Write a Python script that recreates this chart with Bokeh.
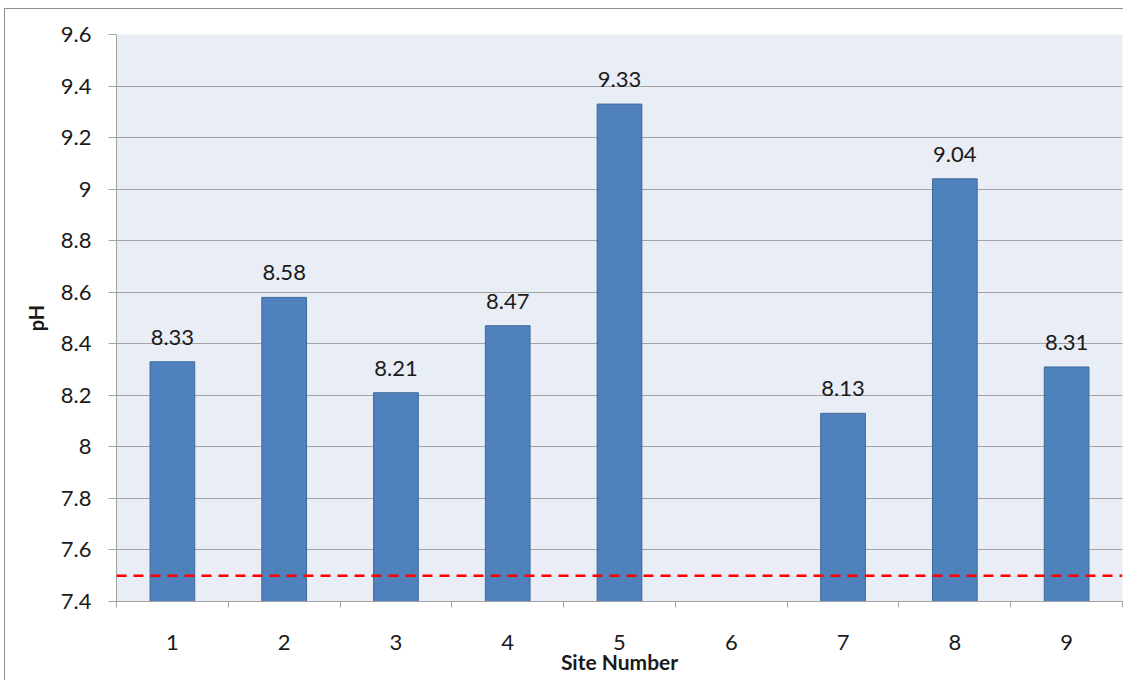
from bokeh.plotting import figure
from bokeh.models import (ColumnDataSource, FixedTicker, CustomJSTickFormatter,
                          LabelSet, Span)
from bokeh.core.properties import value
from bokeh.embed import file_html
from bokeh.resources import INLINE

# pH measured at each site (site 6 has no reading)
sites = [1, 2, 3, 4, 5, 6, 7, 8, 9]
ph = [8.33, 8.58, 8.21, 8.47, 9.33, None, 8.13, 9.04, 8.31]
ph_limit = 7.5
y_ticks = [7.4, 7.6, 7.8, 8.0, 8.2, 8.4, 8.6, 8.8, 9.0, 9.2, 9.4, 9.6]

FONT = "Lato"

xs = [s for s, v in zip(sites, ph) if v is not None]
ys = [v for v in ph if v is not None]
src = ColumnDataSource(dict(
    site=xs,
    ph=ys,
    label=[f"{v:.2f}" for v in ys],
))

p = figure(width=1119, height=672, output_backend="svg", toolbar_location=None,
           x_range=(0.5, 9.5), y_range=(7.4, 9.6),
           min_border_left=111, min_border_right=2,
           min_border_top=25, min_border_bottom=80)
p.styles = {"margin-left": "4px", "margin-top": "8px",
            "border-left": "1px solid #8e8e8e", "border-top": "1px solid #8e8e8e"}

p.background_fill_color = "#E9EDF5"
p.border_fill_color = "white"
p.outline_line_color = None

# bars
p.vbar(x="site", top="ph", bottom=7.4, width=0.4, source=src,
       fill_color="#4F81BD", line_color="#3E6A9C", line_width=1)

# value labels above the bars
labels = LabelSet(x="site", y="ph", text="label", source=src,
                  text_align="center", text_baseline="alphabetic",
                  y_offset=17, text_font=value(FONT), text_font_size=value("22px"),
                  text_color=value("#1a1a1a"))
p.add_layout(labels)

# reference limit
p.add_layout(Span(location=ph_limit, dimension="width", line_color="#FF0000",
                  line_width=2.5, line_dash="10 7"))

# grid
p.xgrid.grid_line_color = None
p.ygrid.grid_line_color = "#A3A3A3"
p.ygrid.grid_line_width = 1

# y axis
p.yaxis.ticker = FixedTicker(ticks=y_ticks)
p.yaxis.formatter = CustomJSTickFormatter(
    code="return tick.toFixed(1).replace(/\\.0$/, '');")
p.yaxis.axis_label = "pH"
p.yaxis.axis_line_color = "#A3A3A3"
p.yaxis.major_tick_line_color = "#A3A3A3"
p.yaxis.major_tick_out = 8
p.yaxis.major_tick_in = 0
p.yaxis.minor_tick_line_color = None
p.yaxis.major_label_standoff = 17
p.yaxis.axis_label_standoff = 10

# x axis: labels at sites, tick marks between them
p.xaxis.ticker = FixedTicker(ticks=sites,
                             minor_ticks=[s - 0.5 for s in sites] + [sites[-1] + 0.5])
p.xaxis.axis_label = "Site Number"
p.xaxis.axis_line_color = "#A3A3A3"
p.xaxis.major_tick_out = 0
p.xaxis.major_tick_in = 0
p.xaxis.minor_tick_out = 6
p.xaxis.minor_tick_in = 0
p.xaxis.minor_tick_line_color = "#A3A3A3"
p.xaxis.major_label_standoff = 27
p.xaxis.axis_label_standoff = -4

for ax in (p.xaxis, p.yaxis):
    ax.major_label_text_font = FONT
    ax.major_label_text_font_size = "22px"
    ax.major_label_text_color = "#1a1a1a"
    ax.axis_label_text_font = FONT
    ax.axis_label_text_font_style = "bold"
    ax.axis_label_text_color = "#1a1a1a"
p.xaxis.axis_label_text_font_size = "21px"
p.yaxis.axis_label_text_font_size = "20px"

open("out.html", "w").write(file_html(p, INLINE))
